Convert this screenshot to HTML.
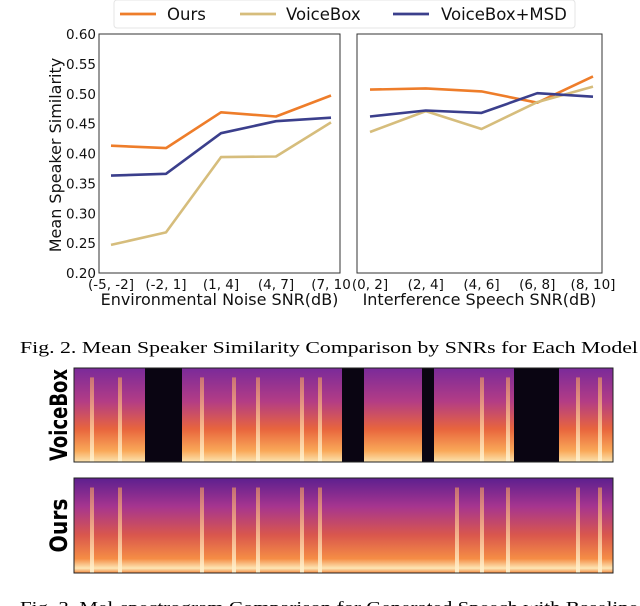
<!DOCTYPE html>
<html><head><meta charset="utf-8"><style>
html,body{margin:0;padding:0;background:#fff;}
svg{display:block;}
text{font-family:"DejaVu Sans","Liberation Sans",sans-serif;}
.serif{font-family:"Liberation Serif",serif;}
</style></head><body>
<svg id="fig" width="640" height="606" viewBox="0 0 640 606">
<defs>
<linearGradient id="specVB" x1="0" y1="0" x2="0" y2="1">
<stop offset="0" stop-color="#7a2a9a"/><stop offset="0.35" stop-color="#b23c86"/><stop offset="0.65" stop-color="#e8653d"/><stop offset="0.88" stop-color="#f9a858"/><stop offset="1" stop-color="#fbe3b0"/>
</linearGradient>
<linearGradient id="specO" x1="0" y1="0" x2="0" y2="1">
<stop offset="0" stop-color="#5d1f8f"/><stop offset="0.3" stop-color="#a6358f"/><stop offset="0.6" stop-color="#d9574d"/><stop offset="0.85" stop-color="#f58d45"/><stop offset="0.95" stop-color="#fde6b5"/><stop offset="1" stop-color="#f2883f"/>
</linearGradient>
<linearGradient id="streak" x1="0" y1="0" x2="0" y2="1">
<stop offset="0" stop-color="#f7a060" stop-opacity="0.6"/><stop offset="1" stop-color="#fff3d0" stop-opacity="0.9"/>
</linearGradient>
</defs>
<g id="legend"></g>
<g id="charts"></g>
<g id="spectro"></g>
<text class="serif" x="20" y="353" font-size="17" textLength="618" lengthAdjust="spacingAndGlyphs">Fig. 2.  Mean Speaker Similarity Comparison by SNRs for Each Model</text>
<text class="serif" x="20" y="613" font-size="17" textLength="618" lengthAdjust="spacingAndGlyphs">Fig. 3.  Mel-spectrogram Comparison for Generated Speech with Baseline</text>
</svg>
<script>
const seriesNames = ["Ours","VoiceBox","VoiceBox+MSD"];
const seriesColors = ["#ee7d2a","#d6bd7c","#3b3f8c"];
const leftCategories = ["(-5, -2]","(-2, 1]","(1, 4]","(4, 7]","(7, 10"];
const rightCategories = ["(0, 2]","(2, 4]","(4, 6]","(6, 8]","(8, 10]"];
const leftOurs = [0.413,0.409,0.469,0.462,0.497];
const leftVoiceBox = [0.247,0.268,0.394,0.395,0.452];
const leftMSD = [0.363,0.366,0.434,0.454,0.460];
const rightOurs = [0.507,0.509,0.504,0.485,0.529];
const rightVoiceBox = [0.436,0.471,0.441,0.486,0.512];
const rightMSD = [0.462,0.472,0.468,0.501,0.495];
const yTicks = [0.20,0.25,0.30,0.35,0.40,0.45,0.50,0.55,0.60];

const NS="http://www.w3.org/2000/svg";
function mk(tag,attrs,parent){const e=document.createElementNS(NS,tag);for(const k in attrs)e.setAttribute(k,attrs[k]);parent.appendChild(e);return e;}
const charts=document.getElementById('charts');
const yMin=0.20,yMax=0.60,plotTop=34,plotBot=273;
function yS(v){return plotBot-(v-yMin)/(yMax-yMin)*(plotBot-plotTop);}

function panel(x0,x1,pad0,pad1,cats,data,xlabel,name,showY){
  const g=mk('g',{},charts);
  
  
  const bg=mk('rect',{x:x0,y:plotTop,width:x1-x0,height:plotBot-plotTop,fill:'#fff',stroke:'#333','stroke-width':1},g);
  
  
  const step=(x1-x0-pad0-pad1)/(cats.length-1);
  const xS=i=>x0+pad0+i*step;
  cats.forEach((c,i)=>{
    const t=mk('text',{x:xS(i),y:289,'font-size':13.5,'text-anchor':'middle',fill:'#111'},g);
    t.textContent=c;
    
    
  });
  const xl=mk('text',{x:(x0+x1)/2,y:305,'font-size':16,'text-anchor':'middle',fill:'#111'},g);
  xl.textContent=xlabel;
  
  
  if(showY){
    yTicks.forEach(v=>{
      const t=mk('text',{x:x0-3,y:yS(v)+5,'font-size':13.5,'text-anchor':'end',fill:'#111'},g);
      t.textContent=v.toFixed(2);
      
      
    });
  }
  data.forEach((vals,s)=>{
    const pts=vals.map((v,i)=>xS(i).toFixed(1)+','+yS(v).toFixed(1)).join(' ');
    const pl=mk('polyline',{points:pts,fill:'none',stroke:seriesColors[s],'stroke-width':2.6,'stroke-linejoin':'round'},g);
    
    
  });
}
panel(99,340,12,9,leftCategories,[leftOurs,leftVoiceBox,leftMSD],'Environmental Noise SNR(dB)','noise-panel',true);
panel(357,602,13,9,rightCategories,[rightOurs,rightVoiceBox,rightMSD],'Interference Speech SNR(dB)','speech-panel',false);
const yt=mk('text',{x:0,y:0,'font-size':16,'text-anchor':'middle',fill:'#111',transform:'translate(61,155) rotate(-90)'},charts);
yt.textContent='Mean Speaker Similarity';



const lg=document.getElementById('legend');
mk('rect',{x:114,y:0,width:461,height:28,rx:3,fill:'#fff',stroke:'#e4e4e4'},lg);
const lx=[120,240,393],tx=[167,286,441];
seriesNames.forEach((n,i)=>{
  const l=mk('line',{x1:lx[i],y1:14,x2:lx[i]+36,y2:14,stroke:seriesColors[i],'stroke-width':2.8},lg);
  
  
  const t=mk('text',{x:tx[i],y:20,'font-size':16.5,fill:'#111'},lg);
  t.textContent=n;
  
  
});

const sp=document.getElementById('spectro');
function spec(y0,h,grad,silences,streaks,label,name,len){
  const g=mk('g',{},sp);
  
  
  mk('rect',{x:74,y:y0,width:539,height:h,fill:'url(#'+grad+')'},g);
  streaks.forEach(x=>mk('rect',{x:x,y:y0+h*0.1,width:4,height:h*0.9,fill:'url(#streak)'},g));
  silences.forEach(s=>mk('rect',{x:s[0],y:y0,width:s[1]-s[0],height:h,fill:'#0a0512'},g));
  mk('rect',{x:74,y:y0,width:539,height:h,fill:'none',stroke:'#222','stroke-width':1},g);
  const t=mk('text',{x:0,y:0,'font-size':24,'font-weight':'bold','text-anchor':'middle',textLength:len,lengthAdjust:'spacingAndGlyphs',fill:'#000',transform:'translate(67,'+(y0+h/2)+') rotate(-90)'},g);
  t.textContent=label;
  
  
}
spec(368,94,'specVB',[[145,182],[342,364],[422,434],[514,559]],[90,118,200,232,256,300,318,480,506,576,598],'VoiceBox','voicebox-spectrogram',92);
spec(478,95,'specO',[],[90,118,200,232,256,300,318,455,480,506,576,598],'Ours','ours-spectrogram',54);
</script>
</body></html>
